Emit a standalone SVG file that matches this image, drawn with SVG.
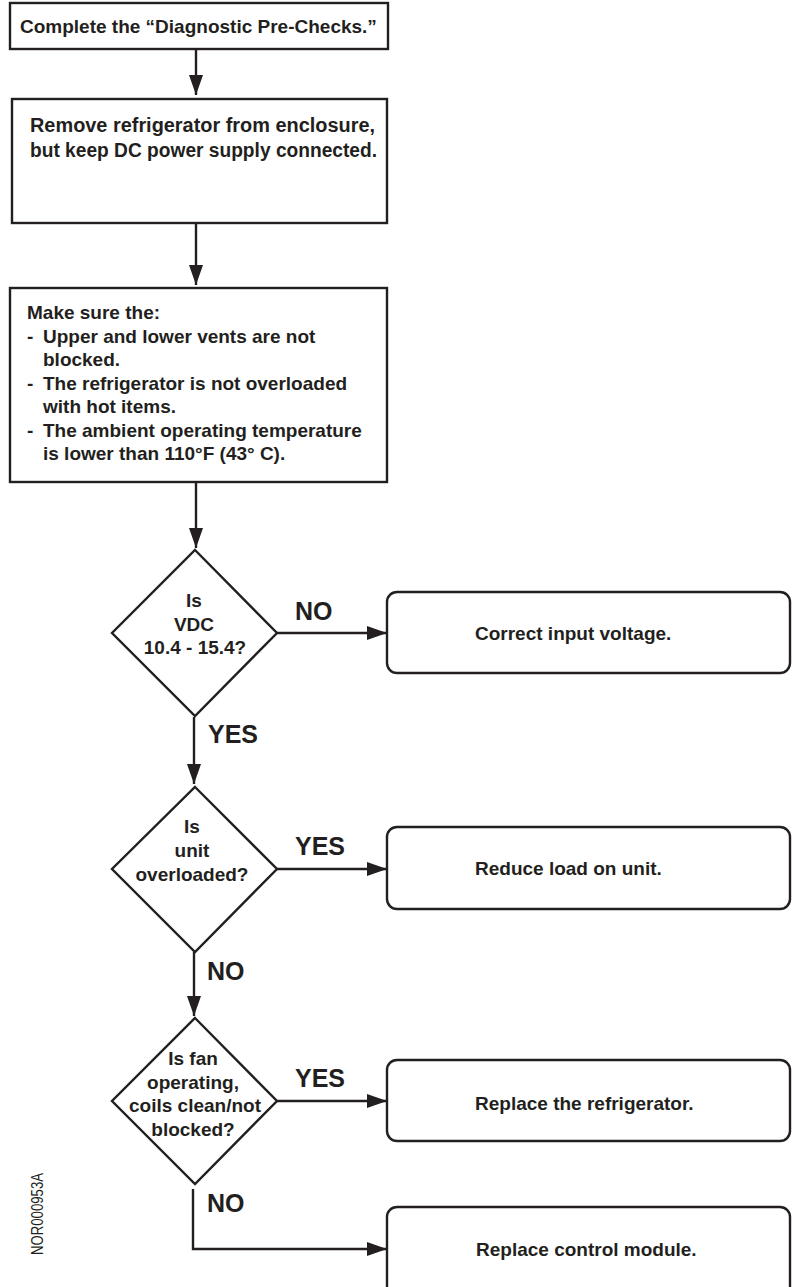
<svg xmlns="http://www.w3.org/2000/svg" width="792" height="1287" viewBox="0 0 792 1287">
<style>
.box{fill:#fff;stroke:#231f20;stroke-width:2.4}
.ln{fill:none;stroke:#231f20;stroke-width:2.4}
.t{font-family:"Liberation Sans",Arial,sans-serif;font-weight:bold;font-size:19px;fill:#231f20}
.t2{font-family:"Liberation Sans",Arial,sans-serif;font-weight:bold;font-size:19.5px;fill:#231f20}
.lbl{font-family:"Liberation Sans",Arial,sans-serif;font-weight:bold;font-size:25px;fill:#231f20}
.m{text-anchor:middle}
.code{font-family:"Liberation Sans",Arial,sans-serif;font-size:17px;fill:#231f20}
</style>
<defs>
<marker id="ah" viewBox="0 0 20 14" refX="20" refY="7" markerWidth="20" markerHeight="14" markerUnits="userSpaceOnUse" orient="auto">
<path d="M0,0 L20,7 L0,14 Z" fill="#231f20"/>
</marker>
</defs>
<rect width="792" height="1287" fill="#fff"/>

<g id="connectors">
<line class="ln" x1="196" y1="49" x2="196" y2="95" marker-end="url(#ah)"/>
<line class="ln" x1="196" y1="223" x2="196" y2="285" marker-end="url(#ah)"/>
<line class="ln" x1="196" y1="482" x2="196" y2="548" marker-end="url(#ah)"/>
<line class="ln" x1="194" y1="717" x2="194" y2="784" marker-end="url(#ah)"/>
<line class="ln" x1="194" y1="952" x2="194" y2="1016" marker-end="url(#ah)"/>
<line class="ln" x1="277" y1="633" x2="387" y2="633" marker-end="url(#ah)"/>
<line class="ln" x1="277" y1="869" x2="387" y2="869" marker-end="url(#ah)"/>
<line class="ln" x1="277" y1="1101" x2="387" y2="1101" marker-end="url(#ah)"/>
<polyline class="ln" points="193,1189 193,1249 387,1249" marker-end="url(#ah)"/>
<text class="lbl" x="295" y="620">NO</text>
<text class="lbl" x="208" y="743">YES</text>
<text class="lbl" x="295" y="855">YES</text>
<text class="lbl" x="207" y="980">NO</text>
<text class="lbl" x="295" y="1087">YES</text>
<text class="lbl" x="207" y="1212">NO</text>
</g>

<g id="n1">
<rect class="box" x="10" y="3" width="378" height="46"/>
<text class="t" x="20" y="33">Complete the “Diagnostic Pre-Checks.”</text>
</g>

<g id="n2">
<rect class="box" x="12" y="99" width="375" height="124"/>
<text class="t2" x="30" y="132" textLength="345" lengthAdjust="spacingAndGlyphs">Remove refrigerator from enclosure,</text>
<text class="t2" x="30" y="157" textLength="347" lengthAdjust="spacingAndGlyphs">but keep DC power supply connected.</text>
</g>

<g id="n3">
<rect class="box" x="10" y="288" width="377" height="194"/>
<text class="t" x="27" y="319">Make sure the:</text>
<text class="t" x="27" y="342.5">-</text><text class="t" x="43" y="342.5">Upper and lower vents are not</text>
<text class="t" x="43" y="366">blocked.</text>
<text class="t" x="27" y="389.5">-</text><text class="t" x="43" y="389.5">The refrigerator is not overloaded</text>
<text class="t" x="43" y="413">with hot items.</text>
<text class="t" x="27" y="436.5">-</text><text class="t" x="43" y="436.5">The ambient operating temperature</text>
<text class="t" x="43" y="460">is lower than 110°F (43° C).</text>
</g>

<g id="d1">
<polygon class="box" points="195,550 277,633 195,716 112,633"/>
<text class="t m" x="194" y="607">Is</text>
<text class="t m" x="194" y="631">VDC</text>
<text class="t m" x="195" y="654">10.4 - 15.4?</text>
</g>

<g id="r1">
<rect class="box" x="387" y="592" width="403" height="81" rx="10"/>
<text class="t" x="475" y="640">Correct input voltage.</text>
</g>

<g id="d2">
<polygon class="box" points="195,787 277,869 195,952 112,869"/>
<text class="t m" x="192" y="833">Is</text>
<text class="t m" x="192" y="857">unit</text>
<text class="t m" x="192" y="881">overloaded?</text>
</g>

<g id="r2">
<rect class="box" x="387" y="827" width="403" height="82" rx="10"/>
<text class="t" x="475" y="875">Reduce load on unit.</text>
</g>

<g id="d3">
<polygon class="box" points="195,1018 277,1101 195,1184 112,1101"/>
<text class="t m" x="193" y="1065">Is fan</text>
<text class="t m" x="193" y="1089">operating,</text>
<text class="t m" x="195" y="1112">coils clean/not</text>
<text class="t m" x="193" y="1136">blocked?</text>
</g>

<g id="r3">
<rect class="box" x="387" y="1060" width="403" height="81" rx="10"/>
<text class="t" x="475" y="1110">Replace the refrigerator.</text>
</g>

<g id="r4">
<rect class="box" x="387" y="1207" width="403" height="95" rx="10"/>
<text class="t" x="476" y="1256">Replace control module.</text>
</g>

<g id="code">
<text class="code" transform="translate(43,1255) rotate(-90)" textLength="82" lengthAdjust="spacingAndGlyphs">NOR000953A</text>
</g>
</svg>
